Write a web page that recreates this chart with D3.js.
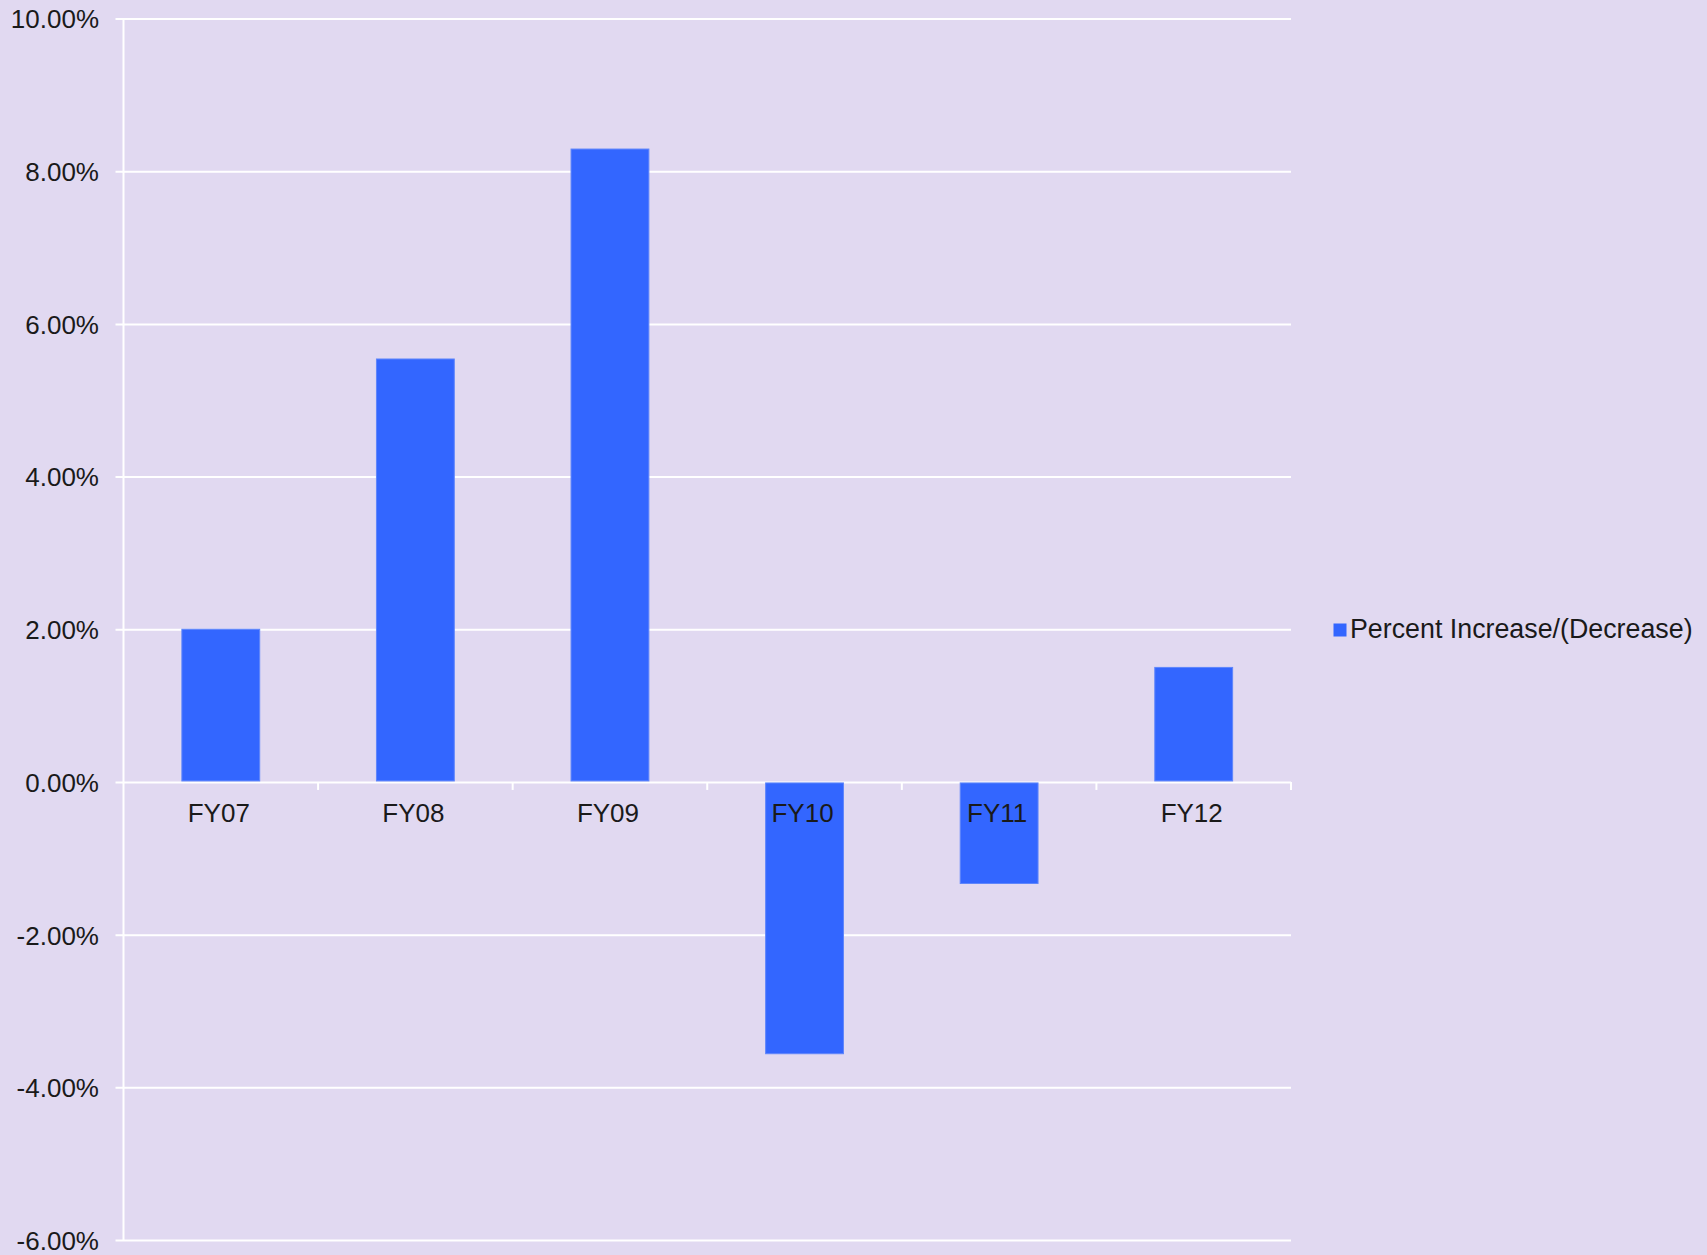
<!DOCTYPE html>
<html>
<head>
<meta charset="utf-8">
<script src="https://cdn.jsdelivr.net/npm/d3@7"></script>
<style>
  html, body { margin: 0; padding: 0; background: #e1d9f1; }
  svg { display: block; }
</style>
</head>
<body>
<div id="chart"></div>
<script>
// chart data
var years = ["FY07", "FY08", "FY09", "FY10", "FY11", "FY12"];
var pctChange = [2.00, 5.54, 8.29, -3.56, -1.33, 1.50];
var yTicks = [10, 8, 6, 4, 2, 0, -2, -4, -6];
var seriesName = "Percent Increase/(Decrease)";

var width = 1707, height = 1255;
var plotLeft = 123.5, plotRight = 1291, plotTop = 18.5, plotBottom = 1240;

var svg = d3.select("#chart").append("svg")
    .attr("width", width)
    .attr("height", height)
    .style("font-family", "'Liberation Sans', Arial, Helvetica, sans-serif");

svg.append("rect")
    .attr("width", width)
    .attr("height", height)
    .attr("fill", "#e1d9f1");

var x = d3.scaleBand()
    .domain(years)
    .range([plotLeft, plotRight])
    .paddingInner(0.6)
    .paddingOuter(0.3);

var xBand = d3.scaleBand()
    .domain(years)
    .range([plotLeft, plotRight]);

var y = d3.scaleLinear()
    .domain([-6, 10])
    .range([plotBottom, plotTop]);

// plain hyphen for negatives, like the original
var pctFormat = d3.formatLocale({ decimal: ".", thousands: ",", grouping: [3], currency: ["", ""], minus: "-" })
    .format(".2f");

// gridlines + y axis labels
var yAxis = d3.axisLeft(y)
    .tickValues(yTicks)
    .tickSize(8)
    .tickPadding(0)
    .tickFormat(function(d) { return pctFormat(d) + "%"; });

var gy = svg.append("g")
    .attr("transform", "translate(" + plotLeft + ",0)")
    .call(yAxis);

gy.select(".domain").remove();
gy.selectAll(".tick line")
    .attr("x1", -8)
    .attr("x2", plotRight - plotLeft)
    .attr("stroke", "#ffffff")
    .attr("stroke-width", 2);
gy.selectAll(".tick text")
    .attr("x", 99 - plotLeft)
    .attr("dy", "0.36em")
    .attr("fill", "#1a1a1a")
    .attr("font-size", 26)
    .attr("text-anchor", "end");

// vertical axis line
svg.append("line")
    .attr("x1", plotLeft).attr("x2", plotLeft)
    .attr("y1", y(10)).attr("y2", y(-6))
    .attr("stroke", "#ffffff")
    .attr("stroke-width", 2);

// bars
svg.append("g")
  .selectAll("rect")
  .data(years)
  .enter().append("rect")
    .attr("x", function(d) { return x(d); })
    .attr("width", x.bandwidth())
    .attr("y", function(d, i) { return pctChange[i] > 0 ? y(pctChange[i]) : y(0) + 1; })
    .attr("height", function(d, i) { return Math.abs(y(pctChange[i]) - y(0)) - 1; })
    .attr("fill", "#3366ff")
    .attr("stroke", "#5f86fb")
    .attr("stroke-width", 1);

// category ticks on zero line
svg.append("g")
  .selectAll("line")
  .data(years)
  .enter().append("line")
    .attr("x1", function(d) { return xBand(d) + xBand.bandwidth(); })
    .attr("x2", function(d) { return xBand(d) + xBand.bandwidth(); })
    .attr("y1", y(0))
    .attr("y2", y(0) + 8)
    .attr("stroke", "#ffffff")
    .attr("stroke-width", 2);

// category labels
svg.append("g")
  .selectAll("text")
  .data(years)
  .enter().append("text")
    .attr("x", function(d) { return xBand(d) + xBand.bandwidth() / 2 - 2; })
    .attr("y", 822)
    .attr("text-anchor", "middle")
    .attr("font-size", 26)
    .attr("fill", "#1a1a1a")
    .text(function(d) { return d; });

// legend
var legend = svg.append("g");
legend.append("rect")
    .attr("x", 1333.5).attr("y", 623.5)
    .attr("width", 13).attr("height", 13)
    .attr("fill", "#3366ff");
legend.append("text")
    .attr("x", 1350)
    .attr("y", 638)
    .attr("font-size", 26.8)
    .attr("fill", "#1a1a1a")
    .text(seriesName);
</script>
</body>
</html>
